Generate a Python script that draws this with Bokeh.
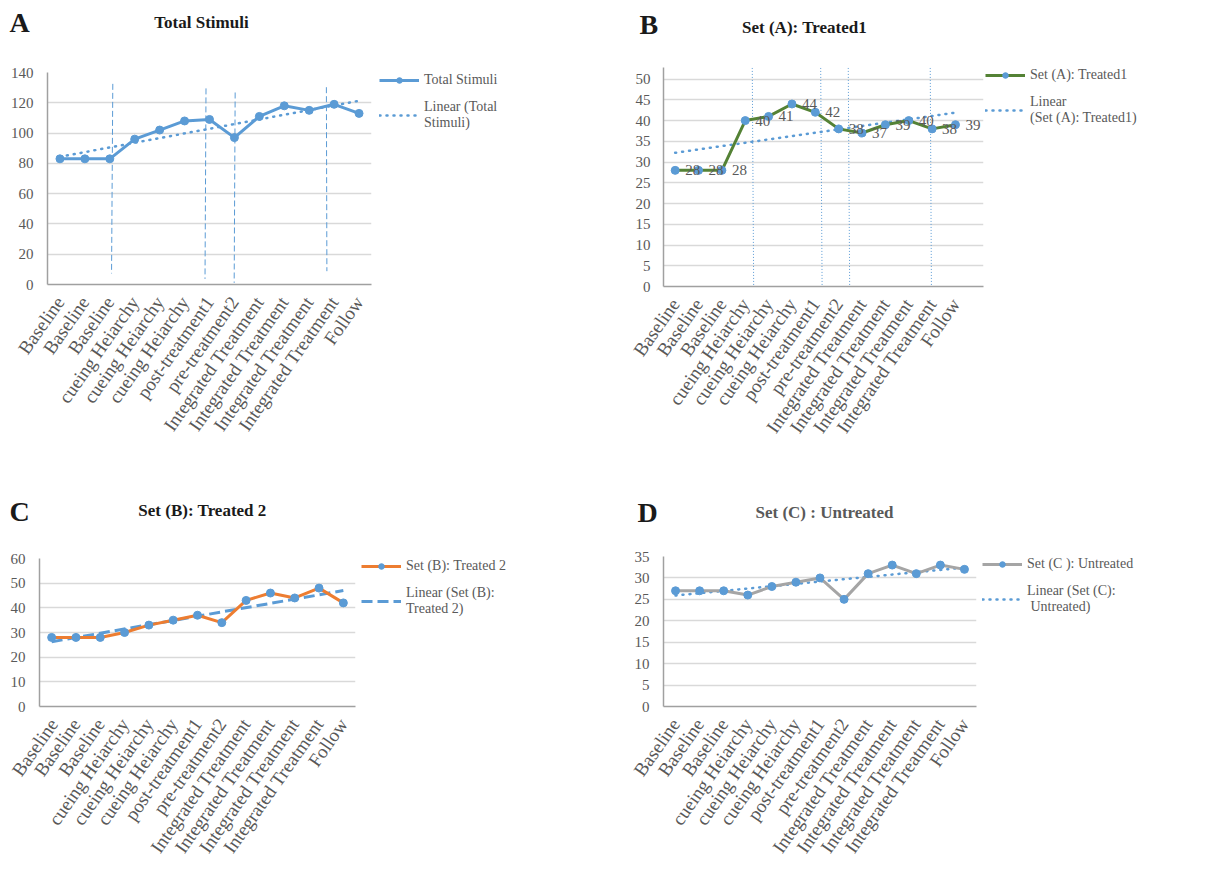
import numpy as np
from bokeh.plotting import figure
from bokeh.models import (Legend, LegendItem, Label, LabelSet, FixedTicker, Range1d,
                          ColumnDataSource)
from bokeh.layouts import column, row
from bokeh.embed import file_html
from bokeh.resources import INLINE

# ---------------- data ----------------
categories = ["Baseline", "Baseline", "Baseline", "cueing Heiarchy", "cueing Heiarchy",
              "cueing Heiarchy", "post-treatment1", "pre-treatment2", "Integrated Treatment",
              "Integrated Treatment", "Integrated Treatment", "Integrated Treatment", "Follow"]
x_pos = list(range(len(categories)))

total_stimuli = [83, 83, 83, 96, 102, 108, 109, 97, 111, 118, 115, 119, 113]
set_a_treated1 = [28, 28, 28, 40, 41, 44, 42, 38, 37, 39, 40, 38, 39]
set_b_treated2 = [28, 28, 28, 30, 33, 35, 37, 34, 43, 46, 44, 48, 42]
set_c_untreated = [27, 27, 27, 26, 28, 29, 30, 25, 31, 33, 31, 33, 32]

ticks_a = [0, 20, 40, 60, 80, 100, 120, 140]
ticks_b = [0, 5, 10, 15, 20, 25, 30, 35, 40, 45, 50]
ticks_c = [0, 10, 20, 30, 40, 50, 60]
ticks_d = [0, 5, 10, 15, 20, 25, 30, 35]

# hand-drawn phase separator lines (x at top, x at bottom, y top, y bottom)
sep_a_x_top = [2.12, 5.86, 7.03, 10.69]
sep_a_x_bot = [2.07, 5.82, 6.99, 10.71]
sep_a_y_top = [132.5, 129.5, 126.8, 130.3]
sep_a_y_bot = [7.3, 3.7, 1.1, 8.8]
sep_b_x_top = [3.30, 6.23, 7.41, 10.92]
sep_b_x_bot = [3.36, 6.29, 7.47, 10.97]
sep_b_y_top = [52.7, 52.7, 52.7, 52.7]
sep_b_y_bot = [0, 0, 0, 0]

FONT = "Liberation Serif"
BLUE = "#5b9bd5"
GREEN = "#548235"
ORANGE = "#ed7d31"
GREY = "#a5a5a5"
TXT = "#595959"
DARK = "#1a1a1a"


def blank(width, height, left=0, top=0, rng=(0, 1)):
    f = figure(width=width, height=height, x_range=Range1d(*rng), y_range=Range1d(*rng),
               x_axis_location=None, y_axis_location=None, toolbar_location=None,
               output_backend="svg", min_border_left=left,
               min_border_top=top, min_border_right=0, min_border_bottom=0)
    f.outline_line_color = None
    f.grid.visible = False
    return f


def header(width, height, letter, lpos, title, tpos, tcolor):
    h = blank(width, height)
    h.add_layout(Label(x=lpos[0], y=lpos[1], x_units="screen", y_units="screen",
                       text=letter, text_font=FONT, text_font_style="bold",
                       text_font_size="28px", text_color=DARK,
                       text_baseline="middle", text_align="left"))
    h.add_layout(Label(x=tpos[0], y=tpos[1], x_units="screen", y_units="screen",
                       text=title, text_font=FONT, text_font_style="bold",
                       text_font_size="17px", text_color=tcolor,
                       text_baseline="middle", text_align="center"))
    return h


def legend_box(width, height, dx, dy, vals, line_color, trend_dash, trend_width,
               trend_cap, series_label, trend_label):
    # the legend keys are drawn from the same series; the view range of this
    # strip lies outside the data so only the legend is seen
    g = blank(width, height, left=dx, top=dy, rng=(-100, -99))
    lr = g.line(x_pos, vals, line_color=line_color, line_width=3)
    sr = g.scatter(x_pos, vals, size=8, fill_color=BLUE, line_color=BLUE)
    tr = g.line(x_pos, vals, line_color=BLUE, line_width=trend_width,
                line_dash=trend_dash, line_cap=trend_cap)
    legend = Legend(items=[LegendItem(label=series_label, renderers=[lr, sr]),
                           LegendItem(label=trend_label, renderers=[tr])],
                    location="top_left", border_line_color=None, background_fill_alpha=0,
                    label_text_font=FONT, label_text_font_size="14px",
                    label_text_color=TXT, glyph_width=40, glyph_height=14,
                    spacing=11, padding=0, margin=0, label_standoff=5,
                    label_text_line_height=1.28)
    g.add_layout(legend)
    return g


def chart(vals, line_color, ticks, y_end, trend_dash, trend_width, trend_cap,
          width, height, left, bottom, right=4, x_end=12.5, seps=None, sep_dash="6 3",
          data_labels=False, ystand=8):
    p = figure(width=width, height=height, min_border_left=left, min_border_top=8,
               min_border_right=right, min_border_bottom=bottom,
               x_range=Range1d(-0.5, x_end), y_range=Range1d(0, y_end),
               toolbar_location=None, output_backend="svg")
    p.outline_line_color = None
    p.xgrid.grid_line_color = None
    p.ygrid.grid_line_color = "#d9d9d9"
    p.ygrid.grid_line_width = 1.5
    p.yaxis.ticker = FixedTicker(ticks=ticks)
    p.xaxis.ticker = FixedTicker(ticks=x_pos)
    p.xaxis.major_label_overrides = {i: c for i, c in zip(x_pos, categories)}
    p.xaxis.major_label_orientation = 0.96
    for ax in (p.xaxis, p.yaxis):
        ax.major_tick_line_color = None
        ax.minor_tick_line_color = None
        ax.axis_line_color = "#a0a0a0"
        ax.axis_line_width = 1.5
        ax.major_label_text_font = FONT
        ax.major_label_text_color = TXT
    p.yaxis.major_label_standoff = ystand
    p.xaxis.major_label_standoff = 8
    p.yaxis.major_label_text_font_size = "15px"
    p.xaxis.major_label_text_font_size = "19px"

    if seps is not None:
        xt, xb, yt, yb = seps
        p.segment(x0=xt, y0=yt, x1=xb, y1=yb, line_color=BLUE, line_width=1,
                  line_dash=sep_dash)

    coef = np.polyfit(x_pos, vals, 1)
    tx = [x_pos[0], x_pos[-1]]
    ty = [coef[0] * t + coef[1] for t in tx]
    p.line(tx, ty, line_color=BLUE, line_width=trend_width, line_dash=trend_dash,
           line_cap=trend_cap)
    p.line(x_pos, vals, line_color=line_color, line_width=3)
    p.scatter(x_pos, vals, size=8, fill_color=BLUE, line_color=BLUE)

    if data_labels:
        src = ColumnDataSource(dict(x=x_pos, y=vals, t=[str(v) for v in vals]))
        p.add_layout(LabelSet(x="x", y="y", text="t", source=src, x_offset=10,
                              text_align="left", text_baseline="middle",
                              text_font_size="15px", text_color=TXT, text_font=FONT))
    return p


# ---------------- panel A ----------------
hA = header(600, 57, "A", (2, 42), "Total Stimuli", (194, 42), DARK)
cA = chart(total_stimuli, BLUE, ticks_a, 140, "1 6", 2.5, "round",
           368, 423, 30, 203,
           seps=(sep_a_x_top, sep_a_x_bot, sep_a_y_top, sep_a_y_bot))
lA = legend_box(232, 423, 4, 3, total_stimuli, BLUE, "1 6", 2.5, "round",
                "Total Stimuli", "Linear (Total\nStimuli)")
panelA = column(hA, row(cA, lA))

# ---------------- panel B ----------------
hB = header(600, 46, "B", (32, 29), "Set (A): Treated1", (197, 26), DARK)
cB = chart(set_a_treated1, GREEN, ticks_b, 52.8, "1 6", 2.5, "round",
           378, 434, 56, 201, right=2, x_end=13.2,
           seps=(sep_b_x_top, sep_b_x_bot, sep_b_y_top, sep_b_y_bot), sep_dash="1 2",
           data_labels=True, ystand=7)
lB = legend_box(222, 434, 0, 14, set_a_treated1, GREEN, "1 6", 2.5, "round",
                "Set (A): Treated1", "Linear\n(Set (A): Treated1)")
panelB = column(hB, row(cB, lB))

# ---------------- panel C ----------------
hC = header(600, 63, "C", (2, 39), "Set (B): Treated 2", (195, 40), DARK)
cC = chart(set_b_treated2, ORANGE, ticks_c, 60, "11 5", 3, "butt",
           352, 315, 31, 154)
lC = legend_box(248, 315, 2, 0, set_b_treated2, ORANGE, "11 5", 3, "butt",
                "Set (B): Treated 2", "Linear (Set (B):\nTreated 2)")
panelC = column(hC, row(cC, lC))

# ---------------- panel D ----------------
hD = header(600, 61, "D", (30, 36), "Set (C) : Untreated", (217, 36), TXT)
cD = chart(set_c_untreated, GREY, ticks_d, 35, "1 6", 2.5, "round",
           373, 317, 56, 153)
lD = legend_box(227, 317, 2, 3, set_c_untreated, GREY, "1 6", 2.5, "round",
                "Set (C ): Untreated", "Linear (Set (C):\n Untreated)")
panelD = column(hD, row(cD, lD))

layout = column(row(panelA, panelB), row(panelC, panelD), margin=(7, 0, 0, 7))
open("out.html", "w").write(file_html(layout, INLINE))
